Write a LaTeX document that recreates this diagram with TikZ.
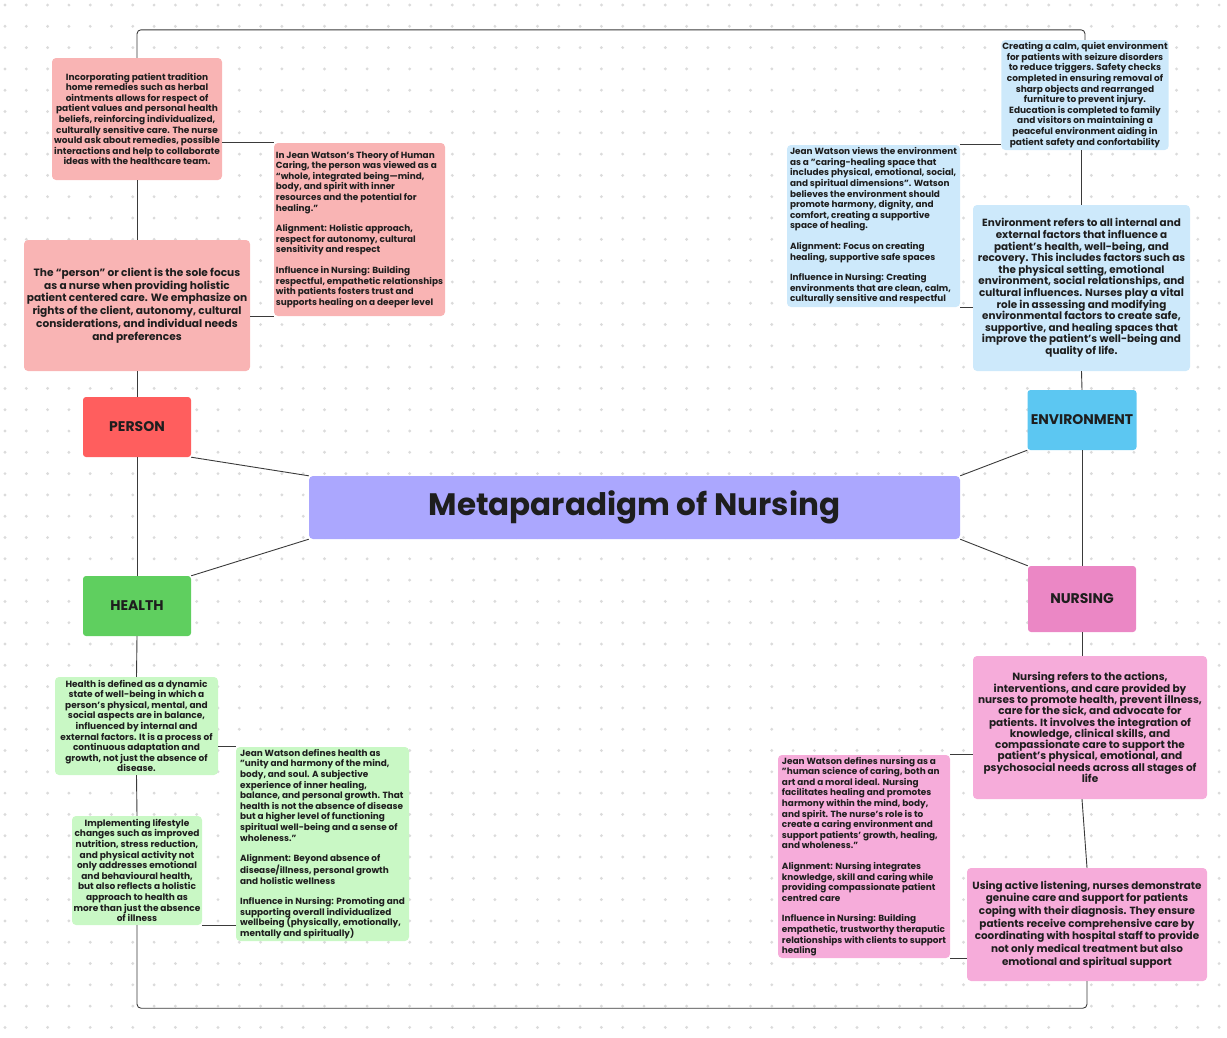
\documentclass[tikz,border=0pt]{standalone}
\usepackage{fontspec}
\setmainfont{Poppins}
\usetikzlibrary{positioning}
\definecolor{inkc}{HTML}{1E1E1E}
\definecolor{linec}{HTML}{3A3A3A}
\definecolor{titlec}{HTML}{ABA7FE}
\definecolor{personc}{HTML}{FF5E5E}
\definecolor{healthc}{HTML}{5FCF5F}
\definecolor{envc}{HTML}{5CC7F2}
\definecolor{nursec}{HTML}{EB87C5}
\definecolor{personl}{HTML}{F9B4B4}
\definecolor{healthl}{HTML}{C9F8C5}
\definecolor{envl}{HTML}{CDE9FB}
\definecolor{nursel}{HTML}{F6ACDA}

\begin{document}
\begin{tikzpicture}[
    x=1pt, y=-1pt,
    font=\bfseries, text=inkc,
    card/.style={
        rectangle, rounded corners=4pt, draw=none,
        align=center, inner sep=1pt
    },
    small/.style={card, font=\bfseries\fontsize{9}{10.6}\selectfont},
    large/.style={card, font=\bfseries\fontsize{10.5}{11.8}\selectfont},
    watson/.style={small, align=left, font=\bfseries\fontsize{8.9}{10.6}\selectfont},
    concept/.style={
        rectangle, rounded corners=3pt, draw=none,
        minimum width=108pt, minimum height=60pt,
        font=\bfseries\fontsize{14}{16}\selectfont
    },
    link/.style={draw=linec, line width=0.9pt}
]
\useasboundingbox (0,0) rectangle (1227,1037);

% Dotted background
\foreach \i in {0,...,57}
  \foreach \j in {0,...,48}
    \fill[black!14] (5+21.3*\i, 5+21.3*\j) circle (1.6pt);

% Centre topic and the four concepts
\node[card, fill=titlec, minimum width=651pt, minimum height=63pt,
      font=\bfseries\fontsize{31}{34}\selectfont] (title) at (634.5,507.5)
    {Metaparadigm of Nursing};
\node[concept, fill=personc] (person) at (137,427) {PERSON};
\node[concept, fill=healthc] (health) at (137,606) {HEALTH};
\node[concept, fill=envc] (environment) at (1082,420) {ENVIRONMENT};
\node[concept, fill=nursec, minimum height=66pt] (nursing) at (1082,599) {NURSING};

% Person branch
\node[small, fill=personl, minimum width=170pt, minimum height=122pt] (p_trad) at (137,119)
    {Incorporating patient tradition\\ home remedies such as herbal\\ ointments allows for respect of\\
     patient values and personal health\\ beliefs, reinforcing individualized,\\
     culturally sensitive care. The nurse\\ would ask about remedies, possible\\
     interactions and help to collaborate\\ ideas with the healthcare team.};
\node[watson, fill=personl, minimum width=171pt, minimum height=173pt] (p_watson) at (359.5,229.5)
    {In Jean Watson’s Theory of Human\\ Caring, the person was viewed as a\\
     “whole, integrated being—mind,\\ body, and spirit with inner\\
     resources and the potential for\\ healing.”\\[10pt]
     Alignment: Holistic approach,\\ respect for autonomy, cultural\\ sensitivity and respect\\[10pt]
     Influence in Nursing: Building\\ respectful, empathetic relationships\\
     with patients fosters trust and\\ supports healing on a deeper level};
\node[large, fill=personl, minimum width=226pt, minimum height=131pt,
      font=\bfseries\fontsize{10.6}{12.8}\selectfont] (p_main) at (137,305.5)
    {The “person” or client is the sole focus\\ as a nurse when providing holistic\\
     patient centered care. We emphasize on\\ rights of the client, autonomy, cultural\\
     considerations, and individual needs\\ and preferences};

% Environment branch
\node[small, fill=envl, minimum width=166pt, minimum height=110pt] (e_safe) at (1085,95)
    {Creating a calm, quiet environment\\ for patients with seizure disorders\\
     to reduce triggers. Safety checks\\ completed in ensuring removal of\\
     sharp objects and rearranged\\ furniture to prevent injury.\\
     Education is completed to family\\ and visitors on maintaining a\\
     peaceful environment aiding in\\ patient safety and confortability};
\node[watson, fill=envl, minimum width=173pt, minimum height=162pt] (e_watson) at (873.5,226)
    {Jean Watson views the environment\\ as a "caring-healing space that\\
     includes physical, emotional, social,\\ and spiritual dimensions". Watson\\
     believes the environment should\\ promote harmony, dignity, and\\
     comfort, creating a supportive\\ space of healing.\\[10pt]
     Alignment: Focus on creating\\ healing, supportive safe spaces\\[10pt]
     Influence in Nursing: Creating\\ environments that are clean, calm,\\
     culturally sensitive and respectful};
\node[large, fill=envl, minimum width=217pt, minimum height=166pt,
      font=\bfseries\fontsize{10.4}{11.6}\selectfont] (e_main) at (1081.5,288)
    {Environment refers to all internal and\\ external factors that influence a\\
     patient's health, well-being, and\\ recovery. This includes factors such as\\
     the physical setting, emotional\\ environment, social relationships, and\\
     cultural influences. Nurses play a vital\\ role in assessing and modifying\\
     environmental factors to create safe,\\ supportive, and healing spaces that\\
     improve the patient's well-being and\\ quality of life.};

% Health branch
\node[small, fill=healthl, minimum width=163pt, minimum height=98pt] (h_main) at (136.5,726)
    {Health is defined as a dynamic\\ state of well-being in which a\\
     person's physical, mental, and\\ social aspects are in balance,\\
     influenced by internal and\\ external factors. It is a process of\\
     continuous adaptation and\\ growth, not just the absence of\\ disease.};
\node[watson, fill=healthl, minimum width=173pt, minimum height=194pt] (h_watson) at (322.5,844)
    {Jean Watson defines health as\\ "unity and harmony of the mind,\\
     body, and soul. A subjective\\ experience of inner healing,\\
     balance, and personal growth. That\\ health is not the absence of disease\\
     but a higher level of functioning\\ spiritual well-being and a sense of\\ wholeness."\\[10pt]
     Alignment: Beyond absence of\\ disease/illness, personal growth\\ and holistic wellness\\[10pt]
     Influence in Nursing: Promoting and\\ supporting overall individualized\\
     wellbeing (physically, emotionally,\\ mentally and spiritually)};
\node[small, fill=healthl, minimum width=130pt, minimum height=109pt] (h_life) at (137,870.5)
    {Implementing lifestyle\\ changes such as improved\\ nutrition, stress reduction,\\
     and physical activity not\\ only addresses emotional\\ and behavioural health,\\
     but also reflects a holistic\\ approach to health as\\ more than just the absence\\ of illness};

% Nursing branch
\node[large, fill=nursel, minimum width=234pt, minimum height=143pt,
      font=\bfseries\fontsize{10.5}{11.3}\selectfont] (n_main) at (1090,727.5)
    {Nursing refers to the actions,\\ interventions, and care provided by\\
     nurses to promote health, prevent illness,\\ care for the sick, and advocate for\\
     patients. It involves the integration of\\ knowledge, clinical skills, and\\
     compassionate care to support the\\ patient's physical, emotional, and\\
     psychosocial needs across all stages of\\ life};
\node[watson, fill=nursel, minimum width=172pt, minimum height=203pt] (n_watson) at (864,856.5)
    {Jean Watson defines nursing as a\\ "human science of caring, both an\\
     art and a moral ideal. Nursing\\ facilitates healing and promotes\\
     harmony within the mind, body,\\ and spirit. The nurse's role is to\\
     create a caring environment and\\ support patients' growth, healing,\\ and wholeness."\\[10pt]
     Alignment: Nursing integrates\\ knowledge, skill and caring while\\
     providing compassionate patient\\ centred care\\[10pt]
     Influence in Nursing: Building\\ empathetic, trustworthy theraputic\\
     relationships with clients to support\\ healing};
\node[large, fill=nursel, minimum width=240pt, minimum height=113pt,
      font=\bfseries\fontsize{10.4}{12.7}\selectfont] (n_care) at (1087,924.5)
    {Using active listening, nurses demonstrate\\ genuine care and support for patients\\
     coping with their diagnosis. They ensure\\ patients receive comprehensive care by\\
     coordinating with hospital staff to provide\\ not only medical treatment but also\\
     emotional and spiritual support};

% Connectors to the centre topic
\draw[link] (person.south east) -- (title.north west);
\draw[link] (health.north east) -- (title.south west);
\draw[link] (environment.south west) -- (title.north east);
\draw[link] (nursing.north west) -- (title.south east);

% Left spine
\draw[link] (p_trad.south) -- (p_main.north);
\draw[link] (p_main.south) -- (person.north);
\draw[link] (person.south) -- (health.north);
\draw[link] (health.south) -- (h_main.north);
\draw[link] (h_main.south) -- (h_life.north);

% Right spine
\draw[link] (e_safe.south -| e_main.north) -- (e_main.north);
\draw[link] (e_main.south) -- (environment.north);
\draw[link] (environment.south) -- (nursing.north);
\draw[link] (nursing.south) -- (nursing.south |- n_main.north);
\draw[link] (n_main.south -| nursing.south) -- (n_care.north);

% Side links to the Watson cards
\draw[link] (p_watson.north west) -- (p_watson.north west -| p_trad.east);
\draw[link] (p_watson.south west) -- (p_watson.south west -| p_main.east);
\draw[link] (e_watson.north east) -- (e_watson.north east -| e_safe.west);
\draw[link] (e_watson.south east) -- (e_watson.south east -| e_main.west);
\draw[link] (h_watson.north west) -- (h_watson.north west -| h_main.east);
\draw[link] (h_life.south east) -- (h_life.south east -| h_watson.west);
\draw[link] (n_watson.north east) -- (n_watson.north east -| n_main.west);
\draw[link] (n_watson.south east) -- (n_watson.south east -| n_care.west);

% Outer frame
\draw[link, rounded corners=4pt] (p_trad.north) -- ++(0,-28) -| (e_safe.north);
\draw[link, rounded corners=4pt] (h_life.south) -- ++(0,83) -| (n_care.south);

\end{tikzpicture}
\end{document}
